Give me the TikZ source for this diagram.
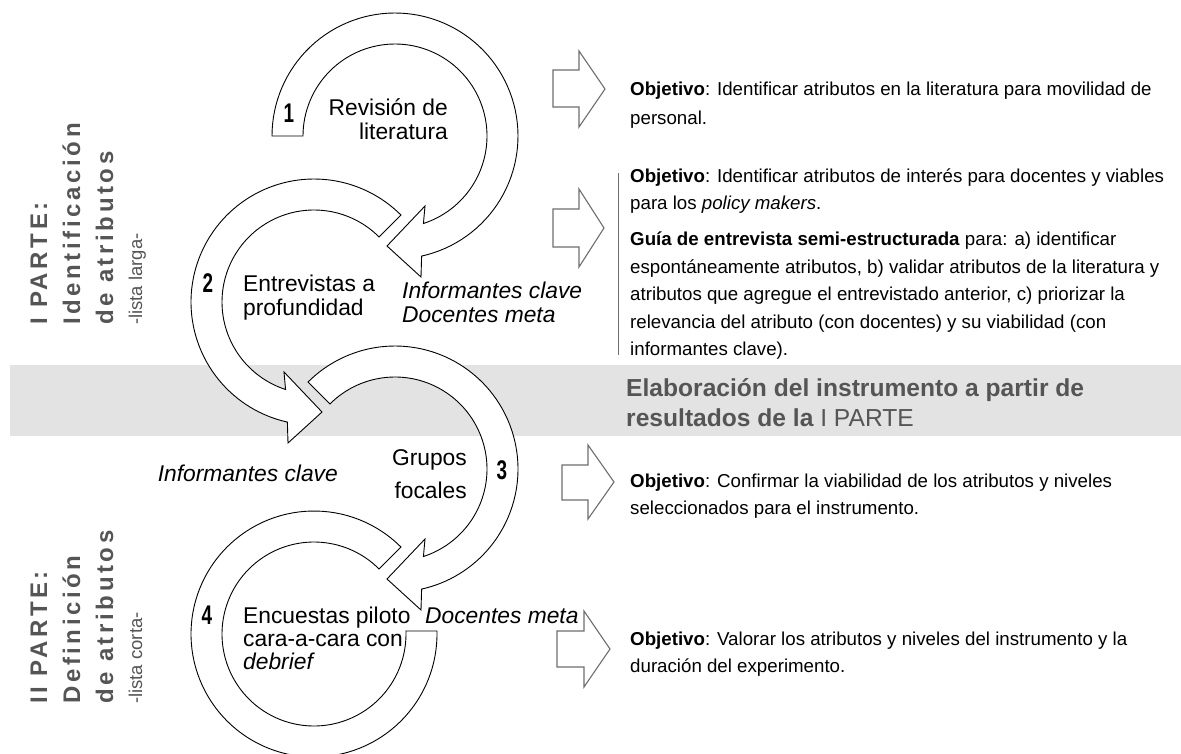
\documentclass[tikz,border=0pt]{standalone}
\usepackage{fontspec}
\usepackage{graphicx}
\setmainfont{Liberation Sans}
\newfontfamily\spaced[LetterSpace=15]{Liberation Sans}
\definecolor{bandgray}{HTML}{E3E3E3}
\definecolor{vgray}{HTML}{555555}
\definecolor{agray}{HTML}{6E6E6E}
\tikzset{
  ring/.style={draw=black, line width=0.9pt, fill=white, line join=miter},
  blockarrow/.style={draw=agray, line width=1.1pt, fill=white, line join=miter},
  ctext/.style={inner sep=0pt, font=\fontsize{22.8}{24}\selectfont},
  itext/.style={inner sep=0pt, font=\fontsize{22.8}{24}\selectfont\itshape},
  num/.style={inner sep=0pt, font=\fontsize{27}{27}\selectfont\bfseries},
  rtext/.style={inner sep=0pt, anchor=base west, font=\fontsize{18.7}{27.5}\selectfont},
  btext/.style={inner sep=0pt, anchor=base west, text=vgray, font=\fontsize{24.6}{30}\selectfont\bfseries},
  vtext/.style={inner sep=0pt, rotate=90, anchor=base west, text=vgray, font=\fontsize{24}{24}\selectfont\spaced\bfseries},
  vsmall/.style={inner sep=0pt, rotate=90, anchor=base west, text=vgray, font=\fontsize{18.5}{20}\selectfont}
}
\begin{document}
\begin{tikzpicture}[x=1pt,y=-1pt]
\useasboundingbox (0,0) rectangle (1181,753);
\fill[white] (0,0) rectangle (1181,753);
% gray band
\fill[bandgray] (10,365) rectangle (1181,436);
\node[btext] (band1) at (626,396) {Elaboración del instrumento a partir de};
\node[btext] (band2) at (626,426) {resultados de la {\mdseries I PARTE}};

% ring arrow 1
\draw[ring] plot[domain=180:437.5, samples=90] ({395+123*cos(\x)},{136+123*sin(\x)})
  -- (421,277) -- (387,246) -- (425,206)
  -- plot[domain=432:180, samples=90] ({395+92*cos(\x)},{136+92*sin(\x)}) -- cycle;
% ring arrow 2
\draw[ring] plot[domain=-45:-257.5, samples=90] ({314+123*cos(\x)},{302+123*sin(\x)})
  -- (288,443) -- (322,412) -- (284,372)
  -- plot[domain=-252:-45, samples=90] ({314+92*cos(\x)},{302+92*sin(\x)}) -- cycle;
% ring arrow 3
\draw[ring] plot[domain=225:437.5, samples=90] ({395+123*cos(\x)},{469+123*sin(\x)})
  -- (421,610) -- (387,579) -- (425,539)
  -- plot[domain=432:225, samples=90] ({395+92*cos(\x)},{469+92*sin(\x)}) -- cycle;
% ring 4
\draw[ring] plot[domain=-45:-361.4, samples=110] ({314+123*cos(\x)},{634+123*sin(\x)})
  -- plot[domain=-361.9:-45, samples=110] ({314+92*cos(\x)},{634+92*sin(\x)}) -- cycle;

% numbers
\node[num] (n1) at (289,113) {\scalebox{0.7}[1]{1}};
\node[num] (n2) at (208,283) {\scalebox{0.7}[1]{2}};
\node[num] (n3) at (502,470) {\scalebox{0.7}[1]{3}};
\node[num] (n4) at (207,615) {\scalebox{0.7}[1]{4}};

% circle texts
\node[ctext, anchor=base east] (r1a) at (448,115) {Revisión de};
\node[ctext, anchor=base east] (r1b) at (448,139) {literatura};
\node[ctext, anchor=base west] (e2a) at (243,291) {Entrevistas a};
\node[ctext, anchor=base west] (e2b) at (243,315) {profundidad};
\node[itext, anchor=base west] (i2a) at (402,298) {Informantes clave};
\node[itext, anchor=base west] (i2b) at (402,322) {Docentes meta};
\node[ctext, anchor=base east] (g3a) at (467,465) {Grupos};
\node[ctext, anchor=base east] (g3b) at (467,498) {focales};
\node[itext, anchor=base east] (i3) at (338,481) {Informantes clave};
\node[ctext, anchor=base west] (c4a) at (243,623) {Encuestas piloto};
\node[ctext, anchor=base west] (c4b) at (243,646) {cara-a-cara con};
\node[itext, anchor=base west] (c4c) at (243,669) {debrief};
\node[itext, anchor=base west] (d4) at (425,623) {Docentes meta};

% block arrows
\draw[blockarrow] (553,70) -- (579,70) -- (579,51) -- (605,89) -- (579,127) -- (579,107) -- (553,107) -- cycle;
\draw[blockarrow] (553,209) -- (579,209) -- (579,189) -- (604,228) -- (579,267) -- (579,247) -- (553,247) -- cycle;
\draw[blockarrow] (562,465) -- (588,465) -- (588,445) -- (614,482) -- (588,519) -- (588,500) -- (562,500) -- cycle;
\draw[blockarrow] (557,631) -- (584,631) -- (584,611) -- (610,649) -- (584,687) -- (584,667) -- (557,667) -- cycle;

% right texts
\node[rtext] (t1a) at (630,95) {\textbf{Objetivo}: Identificar atributos en la literatura para movilidad de};
\node[rtext] (t1b) at (630,124) {personal.};
\draw[agray, line width=0.8pt] (618,173) -- (618,355);
\node[rtext] (t2a) at (630,182) {\textbf{Objetivo}: Identificar atributos de interés para docentes y viables};
\node[rtext] (t2b) at (630,209.5) {para los \textit{policy makers}.};
\node[rtext] (t2c) at (630,245.5) {\textbf{Guía de entrevista semi-estructurada} para: a) identificar};
\node[rtext] (t2d) at (630,273) {espontáneamente atributos, b) validar atributos de la literatura y};
\node[rtext] (t2e) at (630,300.5) {atributos que agregue el entrevistado anterior, c) priorizar la};
\node[rtext] (t2f) at (630,328) {relevancia del atributo (con docentes) y su viabilidad (con};
\node[rtext] (t2g) at (630,355.5) {informantes clave).};
\node[rtext] (t3a) at (630,487) {\textbf{Objetivo}: Confirmar la viabilidad de los atributos y niveles};
\node[rtext] (t3b) at (630,514.5) {seleccionados para el instrumento.};
\node[rtext] (t4a) at (630,645) {\textbf{Objetivo}: Valorar los atributos y niveles del instrumento y la};
\node[rtext] (t4b) at (630,672.5) {duración del experimento.};

% vertical texts
\node[vtext] (p1a) at (47,325) {I PARTE:};
\node[vtext] (p1b) at (80,325) {Identificación};
\node[vtext] (p1c) at (113,325) {de atributos};
\node[vsmall] (p1d) at (142,325) {-lista larga-};
\node[vtext] (p2a) at (47,704) {II PARTE:};
\node[vtext] (p2b) at (80,704) {Definición};
\node[vtext] (p2c) at (113,704) {de atributos};
\node[vsmall] (p2d) at (142,704) {-lista corta-};
\end{tikzpicture}
\end{document}
